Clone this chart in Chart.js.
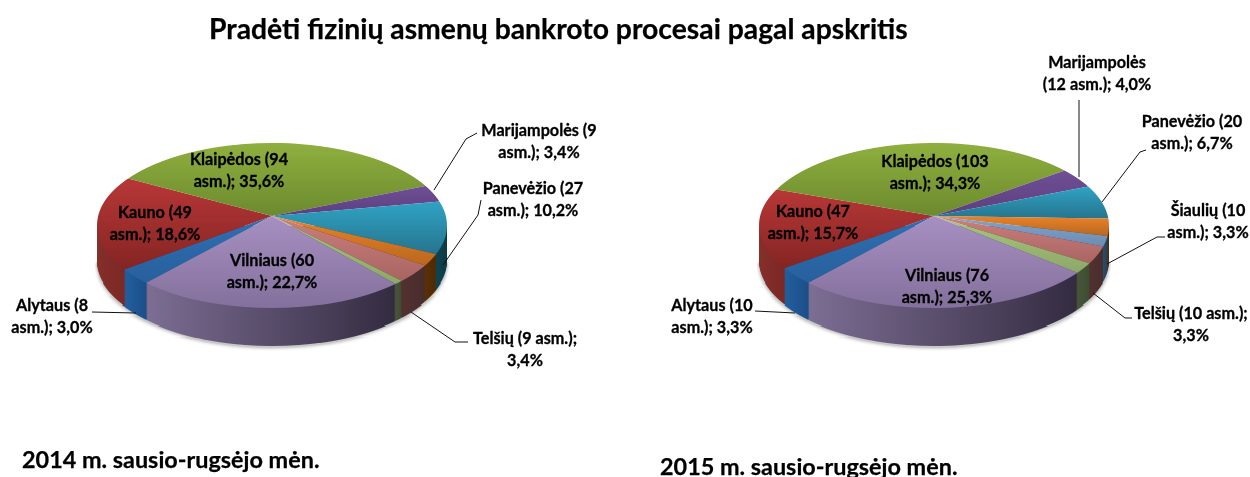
<!DOCTYPE html>
<html lang="lt"><head><meta charset="utf-8">
<script src="https://cdn.jsdelivr.net/npm/chart.js@4"></script>
<style>
html,body{margin:0;padding:0;background:#fff;width:1250px;height:477px;overflow:hidden}
canvas{position:absolute;top:0}
.t{position:absolute;font-family:Lato,sans-serif;font-weight:700;color:#000;white-space:nowrap;line-height:1;-webkit-text-stroke:.25px #000}
</style></head><body>
<canvas id="c1" width="625" height="477" style="left:0"></canvas>
<canvas id="c2" width="625" height="477" style="left:625px"></canvas>
<div class="t" style="left:209px;top:14px;font-size:28.3px">Pradėti fizinių asmenų bankroto procesai pagal apskritis</div>
<div class="t" style="left:22px;top:448px;font-size:23.4px">2014 m. sausio-rugsėjo mėn.</div>
<div class="t" style="left:660px;top:455px;font-size:23.4px">2015 m. sausio-rugsėjo mėn.</div>
<script>
// ---- data ----
const categories2014 = ['Alytaus','Kauno','Klaipėdos','Marijampolės','Panevėžio','Nepažymėta A','Telšių','Nepažymėta B','Vilniaus'];
const values2014 = [8,49,94,9,27,6,9,2,60];
const categories2015 = ['Alytaus','Kauno','Klaipėdos','Marijampolės','Panevėžio','Šiaulių','Nepažymėta A','Telšių','Nepažymėta B','Vilniaus'];
const values2015 = [10,47,103,12,20,10,6,10,6,76];
const labels2014 = [
  ['Alytaus (8','asm.); 3,0%'],['Kauno (49','asm.); 18,6%'],['Klaipėdos (94','asm.); 35,6%'],
  ['Marijampolės (9','asm.); 3,4%'],['Panevėžio (27','asm.); 10,2%'],null,
  ['Telšių (9 asm.);','3,4%'],null,['Vilniaus (60','asm.); 22,7%']];
const labels2015 = [
  ['Alytaus (10','asm.); 3,3%'],['Kauno (47','asm.); 15,7%'],['Klaipėdos (103','asm.); 34,3%'],
  ['Marijampolės','(12 asm.); 4,0%'],['Panevėžio (20','asm.); 6,7%'],
  ['Šiaulių (10','asm.); 3,3%'],null,['Telšių (10 asm.);','3,3%'],null,['Vilniaus (76','asm.); 25,3%']];

// ---- styling / layout ----
const P = {
  blue:  {base:[44,106,171],hi:[47,111,178],lo:[39,96,156],wl:'#225f9f',wr:'#1c4f88'},
  red:   {base:[171,51,51],hi:[184,55,55],lo:[132,37,35],wl:'#86302c',wr:'#7c2824'},
  green: {base:[130,160,56],hi:[143,176,63],lo:[108,138,46],wl:'#55682a',wr:'#45552a'},
  purple:{base:[102,72,138],hi:[111,79,150],lo:[91,63,126],wl:'#3d2c55',wr:'#32244a'},
  teal:  {base:[43,138,168],hi:[48,163,196],lo:[38,116,142],wl:'#0f4450',wr:'#0a3944'},
  orange:{base:[216,119,31],hi:[232,131,42],lo:[185,103,30],wl:'#5a3006',wr:'#4d2a06'},
  sky:   {base:[120,150,188],hi:[131,163,204],lo:[109,140,178],wl:'#2c4d68',wr:'#234058'},
  pink:  {base:[187,116,114],hi:[202,127,124],lo:[169,101,99],wl:'#523231',wr:'#482c2c'},
  lime:  {base:[153,180,112],hi:[168,198,126],lo:[141,167,104],wl:'#47563a',wr:'#3e4c30'},
  lilac: {base:[149,127,176],hi:[166,144,194],lo:[132,112,156],wl:'#7d6e94',wr:'#332b40'}
};
const rgb = a => `rgb(${a.map(Math.round).join(',')})`;
const colours2014 = ['blue','red','green','purple','teal','orange','pink','lime','lilac'];
const colours2015 = ['blue','red','green','purple','teal','orange','sky','pink','lime','lilac'];
// perspective of the pie plane
const CY = 216, TILT = 0.115, SQUASH = 81.4, WIDE = 173.8, DEPTH = 34.5, ROT = -138.6;
const FONT = 'bold 16.2px Lato, sans-serif';
const labelPos2014 = [[52,306],[155,213],[239,160],[539,131],[533,189],null,[525,339],null,[272,261]];
const labelPos2015 = [[712,306],[813,212],[935,162],[1097,63],[1192,122],[1208,211],null,[1191,314],null,[947,276]];
const leaders2014 = [
  [[434,190],[466,139],[477,133]],
  [[443,265],[478,215],[481,200]],
  [[411,312],[455,342],[468,342]],
  [[136,313],[92,312]]];
const leaders2015 = [
  [[1079,177],[1079,100]],
  [[1102,202],[1140,152],[1146,150]],
  [[1107,264],[1157,237],[1165,237]],
  [[1093,293],[1125,318],[1132,318]],
  [[795,313],[755,311]]];

const planeV = y => { const d = y - CY; return d / (SQUASH + TILT * d); };   // screen row -> pie plane depth
const wallAt = s => DEPTH / (1 - TILT * planeV(s));
const TOP = CY - 74, BOTTOM = CY + 93, WIDEST = CY + 9;

function pie3d(names, labelPos, leaders, offsetX, labels){
  return {
    id:'pie3d',
    beforeDatasetsDraw(chart){
      const ctx = chart.ctx, arcs = chart.getDatasetMeta(0).data, W = chart.width;
      const R = arcs[0].outerRadius, cx = arcs[0].x, cy = arcs[0].y;
      const proxies = arcs.map(arc => {
        const p = Object.create(arc);
        p.options = Object.assign({}, arc.options, {borderWidth:0, offset:0, spacing:0});
        return p;
      });
      const within = (arc,a) => { for (let k=-2;k<=2;k++){ const b=a+k*2*Math.PI; if (b>arc.startAngle&&b<arc.endAngle) return true; } return false; };
      // paints one source row of the pie plane onto a target screen row
      const paintRow = (src, target, fill, grow) => {
        const v0 = planeV(src), v1 = planeV(src + 1), vc = planeV(src + .5);
        const py0 = cy + v0 * R, ys = 1 / ((v1 - v0) * R);
        const sx = (grow || 1) * (WIDE / R) / (1 - TILT * vc);
        ctx.save();
        ctx.transform(sx, 0, 0, ys, cx - cx * sx, target - py0 * ys);
        proxies.forEach((p,i) => {
          p.options.backgroundColor = fill(i);
          arcs[i].draw.call(p, ctx);
        });
        ctx.restore();
      };
      const clipRow = (y, fn) => { ctx.save(); ctx.beginPath(); ctx.rect(0, y, W, 1); ctx.clip(); fn(); ctx.restore(); };

      // soft shadow under the wall
      const shadow = [.10,.07,.045,.025];
      for (let y = WIDEST; y < BOTTOM + DEPTH + 8; y++) {
        clipRow(y, () => shadow.forEach((a,j) => {
          const src = Math.round(y - (j + 1) - wallAt(y - 38));
          if (src >= WIDEST && src < BOTTOM) paintRow(src, y, () => `rgba(0,0,0,${a})`, 1.004 + j * .004);
        }));
      }
      // wall: every rim row is extruded downwards; nearer rows are painted last
      const wallFill = arcs.map((arc,i) => {
        const xs = [arc.startAngle, arc.endAngle].map(a => cx + R * Math.cos(a));
        if (within(arc,0)) xs.push(cx + R);
        if (within(arc,Math.PI)) xs.push(cx - R);
        const g = ctx.createLinearGradient(Math.min(...xs), 0, Math.max(...xs), 0);
        g.addColorStop(0, P[names[i]].wl); g.addColorStop(1, P[names[i]].wr);
        return g;
      });
      for (let y = WIDEST; y < BOTTOM + DEPTH + 6; y++) {
        clipRow(y, () => {
          for (let s = Math.max(WIDEST, y - 42); s < Math.min(y, BOTTOM); s++) {
            if (s + wallAt(s) >= y) paintRow(s, y, i => wallFill[i]);
          }
        });
      }
      // top face, one colour per row of each slice's vertical shading
      const yOf = a => { const v = Math.sin(a); return CY + SQUASH * v / (1 - TILT * v); };
      const spans = arcs.map(arc => {
        const ys = [CY, yOf(arc.startAngle), yOf(arc.endAngle)];
        if (within(arc,Math.PI/2)) ys.push(yOf(Math.PI/2));
        if (within(arc,-Math.PI/2)) ys.push(yOf(-Math.PI/2));
        return [Math.min(...ys), Math.max(...ys)];
      });
      for (let y = TOP; y < BOTTOM; y++) {
        clipRow(y, () => paintRow(y, y, i => {
          const c = P[names[i]], [y0,y1] = spans[i];
          const t = Math.min(1, Math.max(0, (y + .5 - y0) / (y1 - y0)));
          return rgb(c.hi.map((h,j) => h + (c.lo[j] - h) * t));
        }));
      }
      return false;
    },
    afterDraw(chart){
      const ctx = chart.ctx;
      ctx.save();
      ctx.strokeStyle = '#111'; ctx.lineWidth = 1;
      leaders.forEach(l => {
        ctx.beginPath();
        l.forEach((pt,i) => i ? ctx.lineTo(pt[0]-offsetX,pt[1]) : ctx.moveTo(pt[0]-offsetX,pt[1]));
        ctx.stroke();
      });
      ctx.fillStyle = '#000'; ctx.strokeStyle='#000'; ctx.lineWidth=.3; ctx.font = FONT; ctx.textAlign = 'center'; ctx.textBaseline = 'middle';
      labels.forEach((lines,i) => {
        if (!lines) return;
        const [x,y] = labelPos[i];
        lines.forEach((t,j) => { ctx.fillText(t, x-offsetX, y + j*21.5); ctx.strokeText(t, x-offsetX, y + j*21.5); });
      });
      ctx.restore();
    }
  };
}

function make(id, cats, vals, names, labels, labelPos, leaders, offsetX, padding){
  return new Chart(document.getElementById(id), {
    type:'pie',
    data:{labels:cats, datasets:[{data:vals, backgroundColor:names.map(n=>rgb(P[n].base)), borderWidth:0}]},
    options:{
      responsive:false, animation:false, rotation:ROT, layout:{padding},
      plugins:{legend:{display:false}, tooltip:{enabled:false}, title:{display:false}}
    },
    plugins:[pie3d(names, labelPos, leaders, offsetX, labels)]
  });
}
make('c1',categories2014,values2014,colours2014,labels2014,labelPos2014,leaders2014,0,{left:97,right:178,top:41,bottom:86});
make('c2',categories2015,values2015,colours2015,labels2015,labelPos2015,leaders2015,625,{left:134,right:141,top:41,bottom:86});
</script>
</body></html>
